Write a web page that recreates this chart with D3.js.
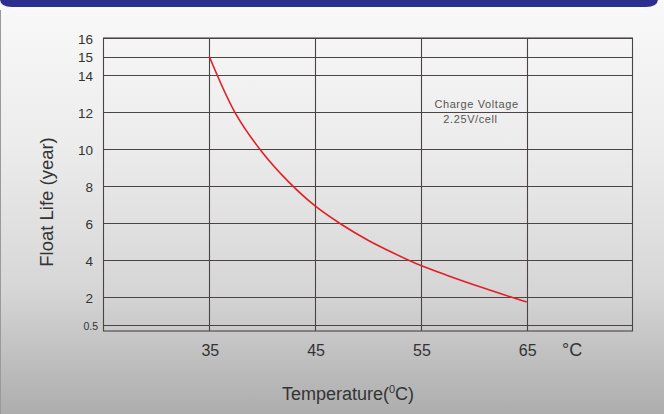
<!DOCTYPE html>
<html>
<head>
<meta charset="utf-8">
<script src="https://cdn.jsdelivr.net/npm/d3@7"></script>
<style>
  html, body { margin: 0; padding: 0; background: #ffffff; }
  svg { display: block; }
</style>
</head>
<body>
<svg id="chart" width="664" height="414"></svg>
<script>
// ---- data ----
const temperatures = [35, 37.5, 40, 42.5, 45, 47.5, 50, 52.5, 55, 57.5, 60, 62.5, 65];
const floatLife    = [15, 11.9, 9.83, 8.23, 6.93, 5.93, 5.08, 4.36, 3.71, 3.18, 2.68, 2.2, 1.74];
const xTicks = [35, 45, 55, 65];
const yTicks = [16, 15, 14, 12, 10, 8, 6, 4, 2, 0.5];
const xTitle = "Temperature(";
const yTitle = "Float Life (year)";
const unitLabel = "°C";
const noteLines = ["Charge Voltage", "2.25V/cell"];

// ---- layout ----
const W = 664, H = 414;
const plot = { left: 103.5, right: 632.5, top: 38, bottom: 331 };
const svg = d3.select("#chart");

const defs = svg.append("defs");
const grad = defs.append("linearGradient").attr("id", "bg").attr("x1", 0).attr("y1", 0).attr("x2", 0).attr("y2", 1);
[["0%", "#f9f9f9"], ["35%", "#ececec"], ["70%", "#d6d6d6"], ["100%", "#adadad"]]
  .forEach(([o, c]) => grad.append("stop").attr("offset", o).attr("stop-color", c));

svg.append("rect").attr("width", W).attr("height", H).attr("fill", "url(#bg)");
svg.append("line").attr("x1", 0.5).attr("x2", 0.5).attr("y1", 10).attr("y2", H)
  .attr("stroke", "#9a9a9a").attr("stroke-width", 1);

// header band with rounded bottom corners
const hb = 7, r = 12;
svg.append("path")
  .attr("d", `M0,0 H${W - 6} V${hb - r + 4} Q${W - 6},${hb} ${W - 6 - r},${hb} H${r} Q0,${hb} 0,${hb - r + 4} Z`)
  .attr("fill", "#2c2f8e");
svg.append("line").attr("x1", 14).attr("x2", W - 18).attr("y1", hb + 1.5).attr("y2", hb + 1.5)
  .attr("stroke", "#ffffff").attr("stroke-width", 1.5).attr("opacity", 0.8);

// ---- scales ----
const x = d3.scaleLinear().domain([25, 75]).range([plot.left, plot.right]);
const y = d3.scaleLinear().domain([0, 16]).range([334.3, 38]);

const g = svg.append("g");

// horizontal grid lines
g.selectAll("line.h").data(yTicks).join("line")
  .attr("class", "h")
  .attr("x1", plot.left).attr("x2", plot.right)
  .attr("y1", d => Math.round(y(d)) + 0.5).attr("y2", d => Math.round(y(d)) + 0.5)
  .attr("stroke", "#4a4444").attr("stroke-width", 1.1);

// vertical grid lines
g.selectAll("line.v").data(xTicks).join("line")
  .attr("class", "v")
  .attr("x1", d => Math.round(x(d)) + 0.5).attr("x2", d => Math.round(x(d)) + 0.5)
  .attr("y1", plot.top).attr("y2", plot.bottom)
  .attr("stroke", "#4a4444").attr("stroke-width", 1.1);

// frame
g.append("rect")
  .attr("x", plot.left).attr("y", plot.top)
  .attr("width", plot.right - plot.left).attr("height", plot.bottom - plot.top)
  .attr("fill", "none").attr("stroke", "#4a4444").attr("stroke-width", 1.1);

// y tick labels
g.selectAll("text.yl").data(yTicks).join("text")
  .attr("class", "yl")
  .attr("x", d => d < 1 ? 98 : 93)
  .attr("y", d => y(d) + 1)
  .attr("dy", "0.35em")
  .attr("text-anchor", "end")
  .attr("font-family", "Liberation Sans, Arial, sans-serif")
  .attr("font-size", d => d < 1 ? 10.5 : 13.5)
  .attr("fill", "#333")
  .text(d => d);

// x tick labels
g.selectAll("text.xl").data(xTicks).join("text")
  .attr("class", "xl")
  .attr("x", d => x(d) + 1)
  .attr("y", 356)
  .attr("text-anchor", "middle")
  .attr("font-family", "Liberation Sans, Arial, sans-serif")
  .attr("font-size", 16)
  .attr("fill", "#333")
  .text(d => d);

// unit label
g.append("text")
  .attr("x", 562).attr("y", 356)
  .attr("font-family", "Liberation Sans, Arial, sans-serif")
  .attr("font-size", 18).attr("fill", "#333")
  .text(unitLabel);

// x title with superscript 0
const xt = g.append("text")
  .attr("x", 348).attr("y", 400)
  .attr("text-anchor", "middle")
  .attr("font-family", "Liberation Sans, Arial, sans-serif")
  .attr("font-size", 18).attr("fill", "#333");
xt.append("tspan").text(xTitle);
xt.append("tspan").attr("dy", -7).attr("font-size", 11).text("0");
xt.append("tspan").attr("dy", 7).text("C)");

// y title
g.append("text")
  .attr("transform", `translate(53,202) rotate(-90)`)
  .attr("text-anchor", "middle")
  .attr("font-family", "Liberation Sans, Arial, sans-serif")
  .attr("font-size", 18.5).attr("fill", "#333")
  .text(yTitle);

// annotation
g.selectAll("text.note").data(noteLines).join("text")
  .attr("class", "note")
  .attr("x", (d, i) => i === 0 ? 476.5 : 470.5)
  .attr("y", (d, i) => 108 + i * 14.5)
  .attr("text-anchor", "middle")
  .attr("font-family", "Liberation Sans, Arial, sans-serif")
  .attr("font-size", 11).attr("letter-spacing", 0.6)
  .attr("fill", "#555")
  .text(d => d);

// curve
const pts = temperatures.map((t, i) => [t, floatLife[i]]);
g.append("path")
  .datum(pts)
  .attr("d", d3.line().x(d => x(d[0])).y(d => y(d[1])).curve(d3.curveCatmullRom.alpha(0.5)))
  .attr("fill", "none")
  .attr("stroke", "#e31e24")
  .attr("stroke-width", 1.6);
</script>
</body>
</html>
